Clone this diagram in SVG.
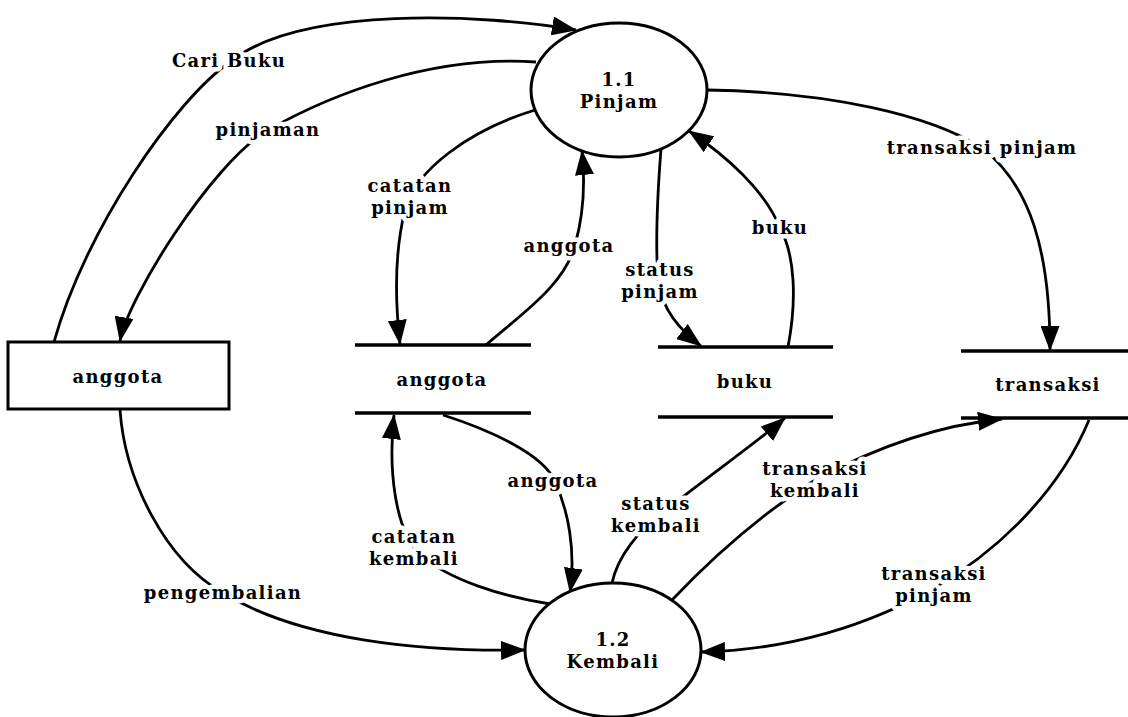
<svg xmlns="http://www.w3.org/2000/svg" width="1128" height="717" viewBox="0 0 1128 717">
<style>
.ln{fill:none;stroke:#000;stroke-width:2.8;marker-end:url(#ah)}
.sh{fill:#fff;stroke:#000;stroke-width:3}
.st{stroke:#000;stroke-width:3.5}
text{font-family:"DejaVu Serif","Liberation Serif",serif;font-weight:bold;font-size:18px;letter-spacing:1.3px;text-anchor:middle;fill:#000}
.lb{stroke:#fff;stroke-width:9;stroke-linejoin:round;paint-order:stroke}
</style>
<defs>
<marker id="ah" markerUnits="userSpaceOnUse" markerWidth="25" markerHeight="19" viewBox="0 0 25 19" refX="24" refY="9.5" orient="auto"><path d="M0,0 L25,9.5 L0,19 Z" fill="#000"/></marker>
</defs>
<rect width="1128" height="717" fill="#fff"/>
<g id="connectors">
<path class="ln" d="M54,342 C85,230 175,100 230,62 C300,5 485,14 576,30"/>
<path class="ln" d="M536,62 C430,55 330,95 268,130 C210,165 127,300 120,341"/>
<path class="ln" d="M535,110 C470,130 415,170 405,210 C395,250 395,300 400,344"/>
<path class="ln" d="M486,345 C520,315 565,285 575,245 C585,210 585,180 582,151"/>
<path class="ln" d="M661,149 C657,200 655,240 658,280 C662,310 680,330 701,346"/>
<path class="ln" d="M788,347 C797,300 795,255 780,228 C765,190 725,155 689,131"/>
<path class="ln" d="M707,90 C830,92 930,115 982,148 C1030,185 1050,250 1050,350"/>
<path class="ln" d="M120,410 C125,480 165,560 223,593 C300,640 420,652 525,650"/>
<path class="ln" d="M550,604 C500,596 450,580 420,555 C395,530 388,470 394,415"/>
<path class="ln" d="M443,415 C490,430 545,455 555,482 C568,510 576,550 570,592"/>
<path class="ln" d="M612,583 C618,555 640,530 660,515 C700,482 755,444 785,418"/>
<path class="ln" d="M672,600 C710,560 760,515 815,480 C880,445 940,425 1002,419"/>
<path class="ln" d="M1089,420 C1060,490 1000,550 934,588 C870,625 790,650 701,652"/>
</g>
<g id="labels">
<text class="lb" x="229" y="67">Cari Buku</text>
<text class="lb" x="268" y="136">pinjaman</text>
<text class="lb" x="410" y="192">catatan</text>
<text class="lb" x="410" y="214">pinjam</text>
<text class="lb" x="569" y="252">anggota</text>
<text class="lb" x="660" y="276">status</text>
<text class="lb" x="660" y="298">pinjam</text>
<text class="lb" x="780" y="234">buku</text>
<text class="lb" x="982" y="154">transaksi pinjam</text>
<text class="lb" x="223" y="599">pengembalian</text>
<text class="lb" x="414" y="543">catatan</text>
<text class="lb" x="414" y="565">kembali</text>
<text class="lb" x="553" y="487">anggota</text>
<text class="lb" x="656" y="510">status</text>
<text class="lb" x="656" y="532">kembali</text>
<text class="lb" x="815" y="475">transaksi</text>
<text class="lb" x="815" y="497">kembali</text>
<text class="lb" x="934" y="580">transaksi</text>
<text class="lb" x="934" y="602">pinjam</text>
</g>
<g id="p11">
<ellipse class="sh" cx="619" cy="90" rx="88" ry="67"/>
<text x="619" y="86">1.1</text>
<text x="619" y="108">Pinjam</text>
</g>
<g id="p12">
<ellipse class="sh" cx="613" cy="650" rx="88" ry="67"/>
<text x="613" y="646">1.2</text>
<text x="613" y="668">Kembali</text>
</g>
<g id="e-anggota">
<rect class="sh" x="8" y="342" width="221" height="67"/>
<text x="118" y="383">anggota</text>
</g>
<g id="ds-anggota">
<line class="st" x1="355" y1="345" x2="531" y2="345"/>
<line class="st" x1="355" y1="413" x2="531" y2="413"/>
<text x="442" y="386">anggota</text>
</g>
<g id="ds-buku">
<line class="st" x1="658" y1="347" x2="833" y2="347"/>
<line class="st" x1="658" y1="417" x2="833" y2="417"/>
<text x="745" y="388">buku</text>
</g>
<g id="ds-transaksi">
<line class="st" x1="961" y1="351" x2="1128" y2="351"/>
<line class="st" x1="961" y1="418" x2="1128" y2="418"/>
<text x="1048" y="391">transaksi</text>
</g>
</svg>
